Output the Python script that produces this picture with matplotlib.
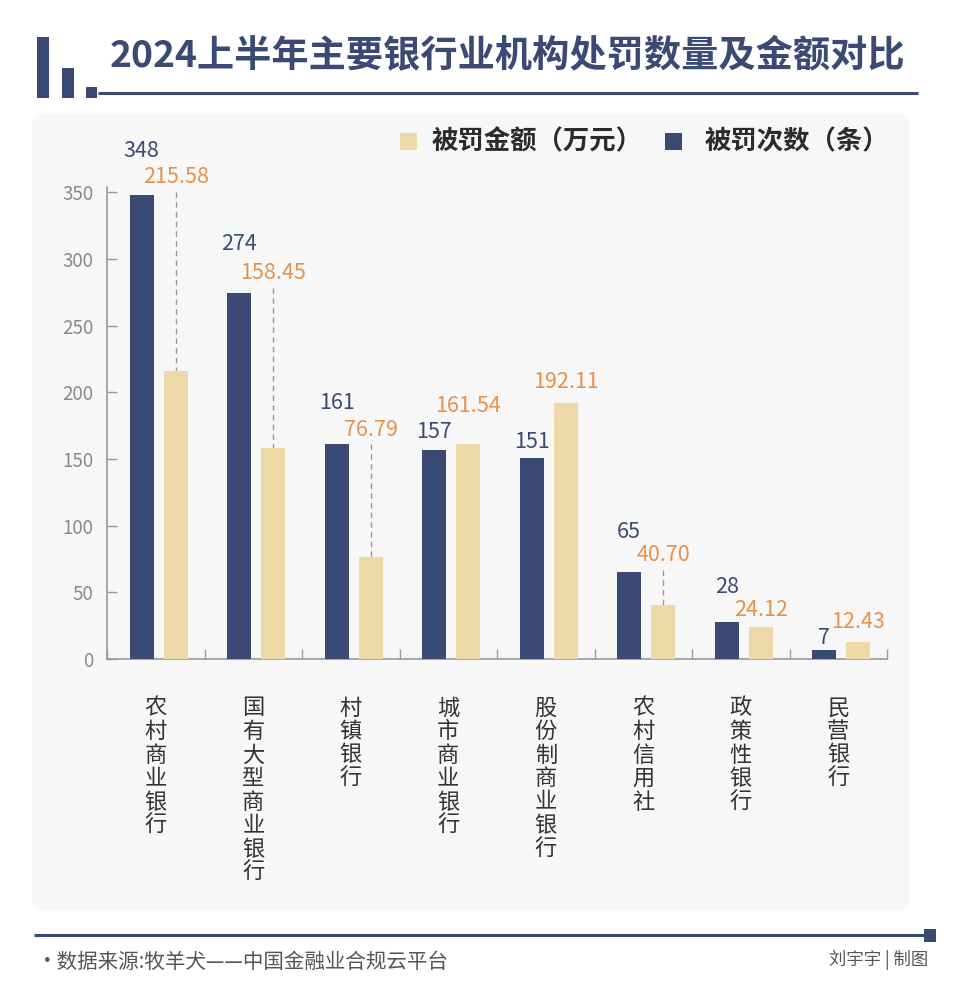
'''
2024上半年主要银行业机构处罚数量及金额对比
'''

import matplotlib
matplotlib.use('Agg')
import matplotlib.pyplot as plt
from matplotlib.patches import Rectangle, FancyBboxPatch

plt.rcParams['font.family'] = ['Noto Sans CJK SC', 'DejaVu Sans']

# data
categories = ['农村商业银行', '国有大型商业银行', '村镇银行', '城市商业银行',
              '股份制商业银行', '农村信用社', '政策性银行', '民营银行']
counts = [348, 274, 161, 157, 151, 65, 28, 7]
amounts = [215.58, 158.45, 76.79, 161.54, 192.11, 40.70, 24.12, 12.43]
yticks = [0, 50, 100, 150, 200, 250, 300, 350]

# where the value labels sit (hand placed in the original)
count_label_y = [381, 311, 192, 170, 163, 95, 54, 16]
amount_label_y = [361, 289, 172, 190, 208, 78, 37, 28]

NAVY = '#3b4a74'
BEIGE = '#ecd9a6'
ORANGE = '#e8914a'
GRAY = '#9a9a9a'

W, H = 960, 994
fig = plt.figure(figsize=(W / 100, H / 100), dpi=100)
fig.patch.set_facecolor('white')

# background layer in pixel coordinates
bg = fig.add_axes([0, 0, 1, 1])
bg.set_xlim(0, W)
bg.set_ylim(H, 0)
bg.axis('off')
bg.add_patch(FancyBboxPatch((32, 114), 878, 796, boxstyle='round,pad=0,rounding_size=12',
                            facecolor='#f7f7f8', edgecolor='none'))
# title decoration
bg.add_patch(Rectangle((37, 37), 12, 61, facecolor=NAVY, edgecolor='none'))
bg.add_patch(Rectangle((62, 68), 12, 30, facecolor=NAVY, edgecolor='none'))
bg.add_patch(Rectangle((86, 87), 11, 11, facecolor=NAVY, edgecolor='none'))
bg.plot([98, 918], [92.5, 92.5], color=NAVY, lw=2.2, solid_capstyle='butt')
bg.text(110, 57, '2024上半年主要银行业机构处罚数量及金额对比', fontsize=26.8,
        fontweight='bold', color=NAVY, va='center', ha='left')
# legend
bg.add_patch(Rectangle((400, 133), 17, 17, facecolor=BEIGE, edgecolor='none'))
bg.text(432, 142, '被罚金额（万元）', fontsize=19, fontweight='bold', color='#2b2b2b',
        va='center', ha='left')
bg.add_patch(Rectangle((665, 133), 17, 17, facecolor=NAVY, edgecolor='none'))
bg.text(705, 142, '被罚次数（条）', fontsize=19, fontweight='bold', color='#2b2b2b',
        va='center', ha='left')
# footer
bg.plot([34, 926], [935, 935], color=NAVY, lw=2.2, solid_capstyle='butt')
bg.add_patch(Rectangle((924, 929), 12, 13, facecolor=NAVY, edgecolor='none'))
bg.text(37, 962, '·数据来源:牧羊犬——中国金融业合规云平台', fontsize=14.8,
        color='#555555', va='center', ha='left')
bg.text(928, 960, '刘宇宇 | 制图', fontsize=12.5, color='#555555',
        va='center', ha='right')

# chart
ax = fig.add_axes([107 / W, (H - 659) / H, 780 / W, 472 / H])
ax.patch.set_alpha(0)
x = [i + 0.5 for i in range(len(categories))]
off_n, off_b, bw = -0.145, 0.205, 0.245
ax.bar([v + off_n for v in x], counts, width=bw, color=NAVY, zorder=3)
ax.bar([v + off_b for v in x], amounts, width=bw, color=BEIGE, zorder=3)

for i in range(len(categories)):
    ax.text(x[i] + off_n, count_label_y[i], str(counts[i]), fontsize=15.5,
            color=NAVY, ha='center', va='center', clip_on=False)
    ax.text(x[i] + off_b, amount_label_y[i], f'{amounts[i]:.2f}', fontsize=15.5,
            color=ORANGE, ha='center', va='center', clip_on=False)
    if amount_label_y[i] - amounts[i] > 30:
        ax.plot([x[i] + off_b, x[i] + off_b], [amount_label_y[i] - 11, amounts[i]],
                color=GRAY, lw=1, ls=(0, (4, 3)), zorder=2, clip_on=False)
    ax.annotate('\n'.join(categories[i]), xy=(x[i], 0), xycoords=('data', 'axes fraction'),
                xytext=(0, -27), textcoords='offset points', ha='center', va='top',
                fontsize=16, color='#333333', linespacing=1.03)

ax.set_xlim(0, len(categories))
ax.set_ylim(0, 472 / 1.334)
ax.set_xticks(range(len(categories) + 1))
ax.set_xticklabels([])
ax.set_yticks(yticks)
ax.set_yticklabels([str(t) for t in yticks], fontsize=13.5, color='#8a8a8a')
ax.tick_params(axis='both', direction='in', length=7, width=1, color=GRAY)
ax.tick_params(axis='y', pad=10)
for s in ['top', 'right']:
    ax.spines[s].set_visible(False)
for s in ['left', 'bottom']:
    ax.spines[s].set_color(GRAY)
    ax.spines[s].set_linewidth(1.2)

fig.savefig('out.png', dpi=100)
